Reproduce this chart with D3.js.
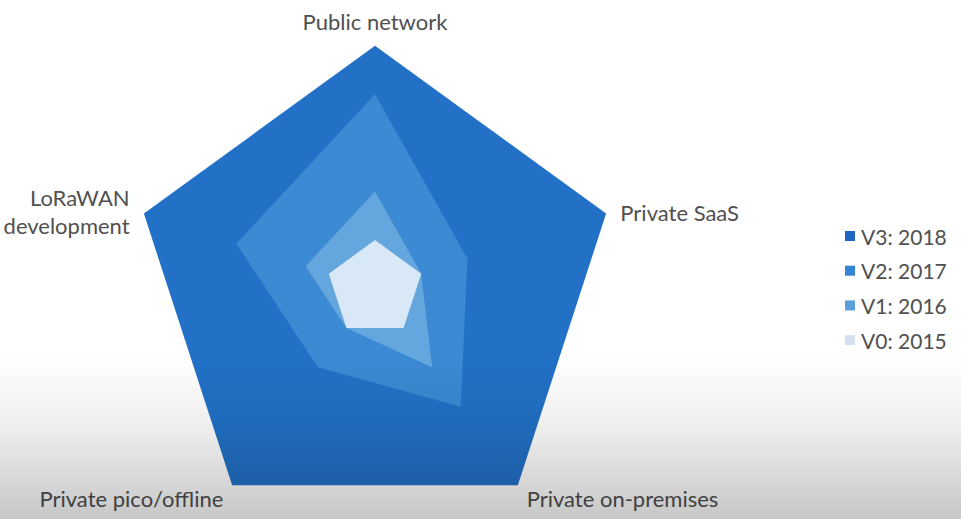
<!DOCTYPE html>
<html>
<head>
<meta charset="utf-8">
<script src="https://cdn.jsdelivr.net/npm/d3@7"></script>
<style>
  html, body { margin: 0; padding: 0; background: #ffffff; }
  svg { display: block; font-family: Lato, "Open Sans", sans-serif; }
</style>
</head>
<body>
<svg id="chart" width="961" height="519"></svg>
<script>
// ---- data ----
const axes = ["Public network", "Private SaaS", "Private on-premises", "Private pico/offline", "LoRaWAN development"];
const seriesNames = ["V3: 2018", "V2: 2017", "V1: 2016", "V0: 2015"];
const v3 = [5, 5, 5, 5, 5];
const v2 = [4, 2, 3, 2, 3];
const v1 = [2, 1, 2, 1, 1.5];
const v0 = [1, 1, 1, 1, 1];
const seriesColors = ["#2271c7", "#3b8ad3", "#64a7df", "#d9e8f6"];
const legendColors = ["#1e66bf", "#3384d2", "#5c9fdc", "#d3e1f1"];
const maxValue = 5;

const series = [v3, v2, v1, v0];

// ---- layout ----
const svg = d3.select("#chart");
const W = 961, H = 519;
const cx = 375, cy = 288.7, R = 243;

const r = d3.scaleLinear().domain([0, maxValue]).range([0, R]);
const angle = d3.scaleLinear().domain([0, axes.length]).range([0, 2 * Math.PI]);

const g = svg.append("g").attr("transform", `translate(${cx},${cy})`);

const radial = d3.lineRadial()
  .angle((d, i) => angle(i))
  .radius(d => r(d))
  .curve(d3.curveLinearClosed);

g.selectAll("path.series")
  .data(series)
  .join("path")
  .attr("class", "series")
  .attr("d", d => radial(d))
  .attr("fill", (d, i) => seriesColors[i])
  .attr("stroke", "none");

// axis labels
const labelR = R + 15;
g.selectAll("text.axis-label")
  .data(axes)
  .join("text")
  .attr("class", "axis-label")
  .attr("font-size", 22)
  .attr("fill", "#505050")
  .each(function (d, i) {
    const a = angle(i);
    const x = labelR * Math.sin(a);
    const y = -labelR * Math.cos(a);
    const t = d3.select(this);
    const s = Math.sin(a);
    const c = Math.cos(a);
    const anchor = Math.abs(s) < 0.01 ? "middle" : (s > 0 ? "start" : "end");
    t.attr("text-anchor", anchor);
    t.attr("dominant-baseline", c > 0.99 ? "auto" : "central");
    if (d === "LoRaWAN development") {
      const parts = ["LoRaWAN", "development"];
      parts.forEach((p, k) => {
        t.append("tspan").attr("x", x).attr("y", y + 2 + (k - 0.5) * 28).text(p);
      });
    } else if (c > 0.99) {
      t.attr("x", x).attr("y", y - 1).text(d);
    } else if (c < 0) {
      t.attr("x", x).attr("y", y + 1).text(d);
    } else {
      t.attr("x", x).attr("y", y + 4).text(d);
    }
  });

// legend
const legend = svg.append("g").attr("transform", "translate(845,236)");
const item = legend.selectAll("g.item")
  .data(seriesNames)
  .join("g")
  .attr("class", "item")
  .attr("transform", (d, i) => `translate(0,${i * 34.7})`);
item.append("rect")
  .attr("x", 0).attr("y", -5).attr("width", 10).attr("height", 10)
  .attr("fill", (d, i) => legendColors[i]);
item.append("text")
  .attr("x", 16).attr("y", 0)
  .attr("dominant-baseline", "central")
  .attr("font-size", 21)
  .attr("fill", "#505050")
  .text(d => d);

// video-style bottom shading
const defs = svg.append("defs");
const grad = defs.append("linearGradient").attr("id", "shade")
  .attr("x1", 0).attr("y1", 0).attr("x2", 0).attr("y2", 1);
grad.append("stop").attr("offset", "0%").attr("stop-color", "#000").attr("stop-opacity", 0);
grad.append("stop").attr("offset", "45%").attr("stop-color", "#000").attr("stop-opacity", 0.07);
grad.append("stop").attr("offset", "100%").attr("stop-color", "#000").attr("stop-opacity", 0.22);
svg.append("rect")
  .attr("x", 0).attr("y", 355).attr("width", W).attr("height", H - 355)
  .attr("fill", "url(#shade)")
  .attr("pointer-events", "none");
</script>
</body>
</html>
